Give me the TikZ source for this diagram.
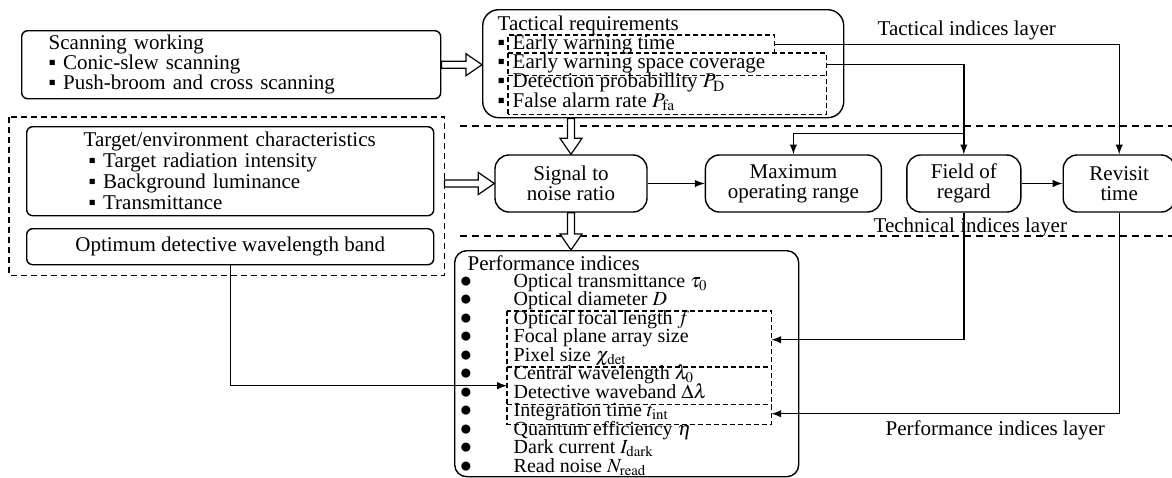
\documentclass[tikz,border=0pt]{standalone}
\usepackage{mathptmx}
\usepackage{fontspec}
\setmainfont{Liberation Serif}
\usepackage{tikz}
\usetikzlibrary{calc}
\usetikzlibrary{positioning}

\tikzset{
  rbox/.style={draw,line width=0.7pt,rounded corners=3pt,inner sep=0pt},
  tbox/.style={rbox,rounded corners=7pt,minimum height=28.5pt,align=center},
  dbox/.style={line width=0.6pt,dash pattern=on 2.5pt off 1.5pt},
  slot/.style={inner sep=0pt,anchor=north west},
  txt/.style={anchor=west,inner sep=0pt,text height=6.5pt,text depth=1.5pt},
  fat/.style={draw,fill=white,line width=0.6pt,to path={
    let \p1=(\tikztostart), \p2=(\tikztotarget) in
    ($(\p1)!1.75pt!90:(\p2)$) -- ($(\p2)!8pt!(\p1)!1.75pt!-90:(\p1)$)
    -- ($(\p2)!8pt!(\p1)!5.5pt!-90:(\p1)$) -- (\p2)
    -- ($(\p2)!8pt!(\p1)!5.5pt!90:(\p1)$) -- ($(\p2)!8pt!(\p1)!1.75pt!90:(\p1)$)
    -- ($(\p1)!1.75pt!-90:(\p2)$) -- cycle}}
}

\begin{document}
\begin{tikzpicture}[x=0.5pt,y=-0.5pt,line width=0.7pt,font=\fontsize{10.5}{10}\selectfont]
	\useasboundingbox (0,0) rectangle (1172,477);
	% scanning working
	\node[rbox,anchor=north west,text width=182.5pt,inner xsep=13.5pt,minimum height=34pt,align=left] (scan) at (21,30) {Scanning working\\▪ Conic-slew scanning\\▪ Push-broom and cross scanning};
	% tactical requirements
	\node[rbox,rounded corners=8pt,anchor=north west,minimum width=180.5pt,minimum height=54pt] (tact) at (482,9) {};
	\node[txt] (tactname) at (497,25) {Tactical requirements};
	\node[slot,minimum width=132.5pt,minimum height=9pt] (ewt) at (508,35) {};
	\node[slot,minimum width=158.5pt,minimum height=10.5pt] (cov) at (508,53) {};
	\node[slot,minimum width=158.5pt,minimum height=19.5pt] (prob) at (508,74) {};
	\draw[dbox] (prob.south west) |- (ewt.north east) -- (ewt.south east);
	\draw[dbox] (cov.north west) -- (cov.north east) -- (prob.south east) -- (prob.south west);
	\draw[dbox] (cov.south west) -- (cov.south east);
	\foreach \t [count=\i] in {Early warning time,Early warning space coverage,Detection probabillity $P_{\mathrm{D}}$,False alarm rate $P_{\mathrm{fa}}$}{
		\node[txt] (tb\i) at (497,{25+19.3*\i}) {▪};
		\node[txt] (tr\i) at (512,{25+19.3*\i}) {\t};
	}
	% layers
	\draw[dash pattern=on 3.5pt off 2.5pt] (460,126) -- (1172,126);
	\draw[dash pattern=on 3.5pt off 2.5pt] (460,236) -- (1172,236);
	\node[txt] (lay1) at (877,30) {Tactical indices layer};
	\node[txt] (lay2) at (873,227) {Technical indices layer};
	\node[txt] (lay3) at (885,430) {Performance indices layer};
	% target and environment
	\node[rbox,draw=none,anchor=north west,minimum width=217pt,minimum height=78.5pt] (envgrp) at (9,117) {};
	\draw[dbox,dash pattern=on 3pt off 2pt] (envgrp.north west) rectangle (envgrp.south east);
	\node[rbox,anchor=north west,text width=146.5pt,inner xsep=28.5pt,minimum height=44.5pt,align=left,font=\fontsize{10.5}{10.5}\selectfont] (env) at (26,126) {Target/environment characteristics\\\hspace*{2.5pt}▪ Target radiation intensity\\\hspace*{2.5pt}▪ Background luminance\\\hspace*{2.5pt}▪ Transmittance};
	\node[rbox,anchor=north west,minimum width=203.5pt,minimum height=18pt] (opt) at (26,228) {Optimum detective wavelength band};
	% technical indices
	\node[tbox,minimum width=76pt] (sig) at (571,183.5) {Signal to\\noise ratio};
	\node[tbox,minimum width=88pt,right=28.5pt of sig] (maxr) {Maximum\\operating range};
	\node[tbox,minimum width=57pt,right=12pt of maxr] (fld) {Field of\\regard};
	\node[tbox,minimum width=56pt,right=20.5pt of fld] (rev) {Revisit\\time};
	% performance indices
	\node[rbox,rounded corners=6pt,anchor=north west,minimum width=172pt,minimum height=113pt] (perf) at (454,250) {};
	\node[txt] (perfname) at (467,265) {Performance indices};
	\node[slot,minimum width=131.5pt,minimum height=28pt] (foc) at (507,311) {};
	\node[slot,minimum width=131.5pt,minimum height=18pt] (wave) at (507,367) {};
	\node[slot,minimum width=131.5pt,minimum height=10pt] (intg) at (507,403) {};
	\draw[dbox] (foc.north west) rectangle (intg.south east);
	\draw[dbox] (wave.north west) -- (wave.north east);
	\draw[dbox] (wave.south west) -- (wave.south east);
	\foreach \t [count=\i from 0] in {Optical transmittance $\tau_0$,Optical diameter $D$,Optical focal length $f$,Focal plane array size,Pixel size $\chi_{\mathrm{det}}$,Central wavelength $\lambda_0$,Detective waveband $\Delta\lambda$,Integration time $t_{\mathrm{int}}$,Quantum efficiency $\eta$,Dark current $I_{\mathrm{dark}}$,Read noise $N_{\mathrm{read}}$}{
		\node[inner sep=0pt] (pb\i) at (466,{282+18.5*\i}) {●};
		\node[txt,font=\fontsize{10}{10}\selectfont] (pi\i) at (513,{282+18.5*\i}) {\t};
	}
	% connectors
	\draw[fat] (scan.east) to (scan.east -| tact.west);
	\draw[fat] (sig.north |- tact.south) to (sig.north);
	\draw[fat] (sig.west -| envgrp.east) to (sig.west);
	\draw[fat] (sig.south) to (sig.south |- perf.north);
	\draw[-latex] (sig) -- (maxr);
	\draw[-latex] (fld) -- (rev);
	\draw[-latex] (ewt.east) -| (rev.north);
	\draw[-latex] (cov.east) -| (fld.north);
	\coordinate (split) at ($(fld.north)+(0,-21)$);
	\draw[-latex] (split) -| (maxr.north);
	\draw[-latex] (fld.south) |- (foc.east);
	\draw[-latex] (rev.south) |- (intg.east);
	\draw[-latex] (opt.south) |- (wave.west);
\end{tikzpicture}
\end{document}
